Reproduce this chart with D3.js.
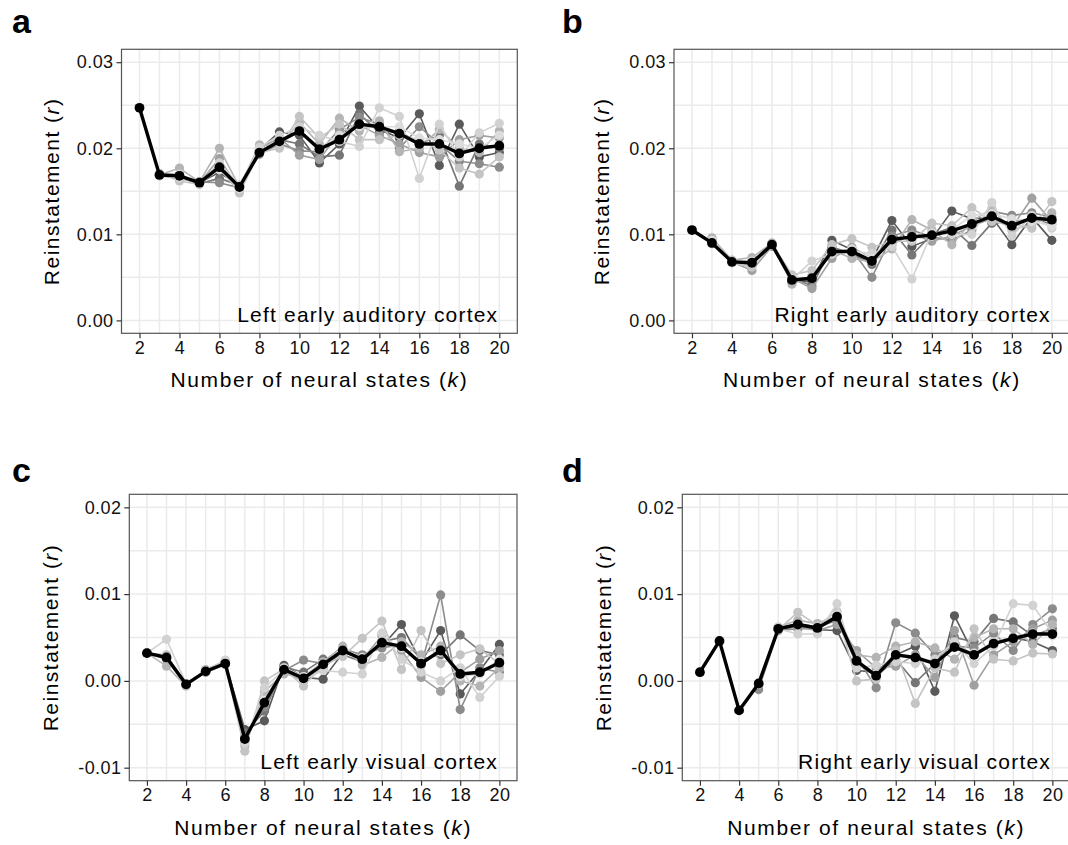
<!DOCTYPE html>
<html>
<head>
<meta charset="utf-8">
<script src="https://cdnjs.cloudflare.com/ajax/libs/d3/7.8.5/d3.min.js"></script>
<style>
body{margin:0;background:#fff;}
svg{display:block;font-family:"Liberation Sans",Arial,Helvetica,sans-serif;}
</style>
</head>
<body>
<div id="chart"></div>
<script>
// number of neural states on the x axis
var kValues = [2,3,4,5,6,7,8,9,10,11,12,13,14,15,16,17,18,19,20];
var xTicks = [2,4,6,8,10,12,14,16,18,20];
var yTicksAud = [0,0.01,0.02,0.03];
var yTicksVis = [-0.01,0,0.01,0.02];
var greyColors = ["#5a5a5a","#767676","#8c8c8c","#a0a0a0","#b4b4b4","#c4c4c4","#d2d2d2","#dcdcdc"];

// a - left early auditory cortex
var meanA = [0.0247,0.0169,0.0168,0.0160,0.0178,0.0155,0.0195,0.0208,0.0220,0.0199,0.0210,0.0228,0.0225,0.0217,0.0205,0.0205,0.0194,0.0200,0.0203];
var greyA = [
 [null,0.0170,0.0167,0.0160,0.0172,0.0156,0.0198,0.0219,0.0215,0.0183,0.0205,0.0249,0.0222,0.0212,0.0240,0.0180,0.0228,0.0190,0.0195],
 [null,0.0169,0.0166,0.0159,0.0165,0.0157,0.0196,0.0210,0.0205,0.0190,0.0192,0.0240,0.0218,0.0220,0.0205,0.0215,0.0156,0.0205,0.0200],
 [null,0.0170,0.0168,0.0161,0.0160,0.0154,0.0193,0.0205,0.0197,0.0196,0.0222,0.0236,0.0228,0.0200,0.0225,0.0205,0.0185,0.0182,0.0178],
 [null,0.0168,0.0165,0.0160,0.0188,0.0152,0.0200,0.0212,0.0192,0.0187,0.0218,0.0227,0.0215,0.0205,0.0195,0.0190,0.0210,0.0215,0.0212],
 [null,0.0169,0.0177,0.0161,0.0200,0.0155,0.0204,0.0203,0.0230,0.0205,0.0235,0.0220,0.0232,0.0196,0.0200,0.0222,0.0200,0.0195,0.0220],
 [null,0.0171,0.0162,0.0158,0.0178,0.0148,0.0195,0.0200,0.0237,0.0212,0.0228,0.0210,0.0210,0.0215,0.0210,0.0198,0.0177,0.0170,0.0190],
 [null,0.0169,0.0170,0.0159,0.0183,0.0157,0.0201,0.0215,0.0225,0.0215,0.0208,0.0202,0.0247,0.0237,0.0165,0.0228,0.0190,0.0218,0.0229],
 [null,0.0168,0.0166,0.0160,0.0175,0.0153,0.0197,0.0208,0.0220,0.0200,0.0215,0.0225,0.0225,0.0225,0.0212,0.0210,0.0205,0.0200,0.0215]
];

// b - right early auditory cortex
var meanB = [0.0105,0.0090,0.0068,0.0067,0.0088,0.0047,0.0049,0.0080,0.0080,0.0069,0.0094,0.0097,0.0099,0.0104,0.0112,0.0121,0.0110,0.0119,0.0117];
var greyB = [
 [null,0.0091,0.0068,0.0066,0.0089,0.0046,0.0045,0.0093,0.0082,0.0070,0.0116,0.0086,0.0095,0.0127,0.0118,0.0120,0.0088,0.0120,0.0093],
 [null,0.0090,0.0069,0.0068,0.0088,0.0050,0.0040,0.0085,0.0078,0.0065,0.0105,0.0076,0.0100,0.0108,0.0087,0.0113,0.0115,0.0118,0.0112],
 [null,0.0092,0.0067,0.0065,0.0087,0.0045,0.0048,0.0078,0.0082,0.0050,0.0098,0.0105,0.0097,0.0093,0.0105,0.0127,0.0122,0.0125,0.0120],
 [null,0.0094,0.0068,0.0058,0.0086,0.0049,0.0037,0.0072,0.0085,0.0072,0.0088,0.0100,0.0092,0.0098,0.0110,0.0118,0.0108,0.0142,0.0115],
 [null,0.0096,0.0070,0.0073,0.0090,0.0042,0.0052,0.0082,0.0072,0.0068,0.0083,0.0117,0.0105,0.0088,0.0115,0.0130,0.0105,0.0112,0.0125],
 [null,0.0089,0.0067,0.0062,0.0089,0.0053,0.0058,0.0088,0.0095,0.0085,0.0092,0.0092,0.0113,0.0110,0.0131,0.0115,0.0112,0.0107,0.0138],
 [null,0.0090,0.0068,0.0067,0.0088,0.0047,0.0069,0.0077,0.0080,0.0078,0.0086,0.0048,0.0102,0.0100,0.0100,0.0137,0.0098,0.0122,0.0107],
 [null,0.0093,0.0069,0.0069,0.0087,0.0048,0.0050,0.0080,0.0083,0.0072,0.0095,0.0095,0.0098,0.0105,0.0122,0.0124,0.0118,0.0115,0.0110]
];

// c - left early visual cortex
var meanC = [0.0032,0.0027,-0.0004,0.0011,0.0020,-0.0067,-0.0025,0.0013,0.0003,0.0019,0.0035,0.0025,0.0044,0.0040,0.0020,0.0035,0.0008,0.0010,0.0021];
var greyC = [
 [0.0032,0.0026,-0.0004,0.0011,0.0021,-0.0056,-0.0046,0.0018,0.0004,0.0002,0.0032,0.0028,0.0040,0.0065,0.0022,0.0058,-0.0015,0.0012,0.0042],
 [0.0032,0.0025,-0.0005,0.0012,0.0020,-0.0060,-0.0035,0.0016,0.0010,0.0025,0.0030,0.0022,0.0045,0.0050,0.0025,0.0030,0.0053,0.0035,0.0030],
 [0.0032,0.0028,-0.0003,0.0010,0.0019,-0.0065,-0.0030,0.0012,0.0024,0.0020,0.0037,0.0030,0.0038,0.0042,0.0018,0.0099,-0.0033,0.0015,0.0010],
 [0.0032,0.0029,-0.0004,0.0011,0.0022,-0.0070,-0.0020,0.0010,0.0000,0.0015,0.0033,0.0025,0.0052,0.0035,0.0004,-0.0012,0.0010,0.0025,0.0035],
 [0.0032,0.0017,-0.0006,0.0013,0.0023,-0.0075,-0.0012,0.0008,0.0005,0.0022,0.0040,0.0018,0.0027,0.0045,0.0030,0.0040,0.0000,-0.0006,0.0015],
 [0.0032,0.0030,-0.0005,0.0010,0.0020,-0.0081,0.0000,0.0014,-0.0006,0.0018,0.0028,0.0049,0.0069,0.0013,0.0058,0.0020,0.0030,0.0037,0.0020],
 [0.0032,0.0048,-0.0003,0.0012,0.0024,-0.0072,-0.0008,0.0013,0.0002,0.0012,0.0010,0.0008,0.0055,0.0025,0.0010,0.0000,0.0015,-0.0019,0.0005],
 [0.0032,0.0027,-0.0004,0.0011,0.0021,-0.0068,-0.0022,0.0015,0.0005,0.0020,0.0036,0.0027,0.0044,0.0038,0.0022,0.0033,0.0005,0.0008,0.0025]
];

// d - right early visual cortex
var meanD = [0.0010,0.0046,-0.0034,-0.0003,0.0060,0.0065,0.0061,0.0074,0.0023,0.0006,0.0030,0.0027,0.0020,0.0039,0.0030,0.0043,0.0049,0.0054,0.0054];
var greyD = [
 [null,null,null,-0.0005,0.0059,0.0063,0.0059,0.0058,0.0012,0.0010,0.0030,0.0040,-0.0012,0.0075,0.0030,0.0045,0.0050,0.0045,0.0035],
 [null,null,null,-0.0004,0.0061,0.0066,0.0062,0.0070,0.0020,0.0005,0.0025,-0.0002,0.0020,0.0050,0.0045,0.0072,0.0068,0.0052,0.0060],
 [null,null,null,-0.0010,0.0058,0.0060,0.0060,0.0072,0.0028,-0.0008,0.0067,0.0055,0.0030,0.0040,0.0038,0.0055,0.0035,0.0065,0.0083],
 [null,null,null,-0.0003,0.0060,0.0062,0.0058,0.0065,0.0035,0.0015,0.0017,0.0030,0.0004,0.0058,-0.0005,0.0030,0.0045,0.0060,0.0070],
 [null,null,null,-0.0003,0.0062,0.0070,0.0066,0.0075,0.0030,0.0027,0.0040,0.0045,0.0038,0.0025,0.0050,0.0060,0.0060,0.0042,0.0065],
 [null,null,null,-0.0004,0.0059,0.0079,0.0064,0.0080,0.0000,0.0002,0.0035,-0.0026,0.0015,0.0010,0.0060,0.0025,0.0023,0.0032,0.0031],
 [null,null,null,-0.0003,0.0060,0.0054,0.0054,0.0089,0.0015,0.0018,0.0022,0.0020,0.0025,0.0045,0.0020,0.0040,0.0089,0.0087,0.0055],
 [null,null,null,-0.0004,0.0061,0.0064,0.0061,0.0076,0.0022,0.0008,0.0031,0.0028,0.0020,0.0040,0.0032,0.0045,0.0050,0.0055,0.0052]
];

var panels = [
 {letter:"a", label:"Left early auditory cortex", mean:meanA, grey:greyA, yTicks:yTicksAud,
  left:121.5, right:517.3, top:49.3, bottom:333.3, lx:12, ly:33, titleX:52},
 {letter:"b", label:"Right early auditory cortex", mean:meanB, grey:greyB, yTicks:yTicksAud,
  left:674, right:1069.8, top:49.3, bottom:333.3, lx:562, ly:33, titleX:602},
 {letter:"c", label:"Left early visual cortex", mean:meanC, grey:greyC, yTicks:yTicksVis,
  left:129.3, right:517, top:494.3, bottom:780.7, lx:12, ly:482, titleX:51},
 {letter:"d", label:"Right early visual cortex", mean:meanD, grey:greyD, yTicks:yTicksVis,
  left:682.3, right:1070, top:494.3, bottom:780.7, lx:562, ly:482, titleX:604}
];

var svg = d3.select("#chart")
	.append("svg")
	.attr("width", 1068)
	.attr("height", 845);

panels.forEach(function(p){
	var yt = p.yTicks;
	var x = d3.scaleLinear().domain([1.1, 20.9]).range([p.left, p.right]);
	// ggplot style 5% expansion around the tick range
	var pad = (yt[yt.length-1] - yt[0]) * 0.05;
	var y = d3.scaleLinear().domain([yt[0]-pad, yt[yt.length-1]+pad]).range([p.bottom, p.top]);

	var g = svg.append("g");

	// grid
	var yMinor = yt.slice(0, -1).map(function(v){ return v + 0.005; });
	var xMinor = kValues.filter(function(k){ return k % 2 == 1; });
	g.selectAll(".gx")
		.data(xTicks.concat(xMinor))
		.enter().append("line")
		.attr("x1", function(d){ return x(d); })
		.attr("x2", function(d){ return x(d); })
		.attr("y1", p.top).attr("y2", p.bottom)
		.attr("stroke", "#ebebeb")
		.attr("stroke-width", 1.5);
	g.selectAll(".gy")
		.data(yt.concat(yMinor))
		.enter().append("line")
		.attr("y1", function(d){ return y(d); })
		.attr("y2", function(d){ return y(d); })
		.attr("x1", p.left).attr("x2", p.right)
		.attr("stroke", "#ebebeb")
		.attr("stroke-width", 1.5);

	var line = d3.line()
		.defined(function(d){ return d.v != null; })
		.x(function(d){ return x(d.k); })
		.y(function(d){ return y(d.v); });

	// grey series
	p.grey.forEach(function(s, i){
		var pts = kValues.map(function(k, j){ return {k:k, v:s[j]}; });
		g.append("path")
			.datum(pts)
			.attr("d", line)
			.attr("fill", "none")
			.attr("stroke", greyColors[i])
			.attr("stroke-width", 1.6);
		g.selectAll(null)
			.data(pts.filter(function(d){ return d.v != null; }))
			.enter().append("circle")
			.attr("cx", function(d){ return x(d.k); })
			.attr("cy", function(d){ return y(d.v); })
			.attr("r", 4.6)
			.attr("fill", greyColors[i]);
	});

	// mean in black
	var mpts = kValues.map(function(k, j){ return {k:k, v:p.mean[j]}; });
	g.append("path")
		.datum(mpts)
		.attr("d", line)
		.attr("fill", "none")
		.attr("stroke", "#000")
		.attr("stroke-width", 3.4)
		.attr("stroke-linejoin", "round");
	g.selectAll(null)
		.data(mpts)
		.enter().append("circle")
		.attr("cx", function(d){ return x(d.k); })
		.attr("cy", function(d){ return y(d.v); })
		.attr("r", 4.9)
		.attr("fill", "#000");

	// border
	g.append("rect")
		.attr("x", p.left).attr("y", p.top)
		.attr("width", p.right - p.left)
		.attr("height", p.bottom - p.top)
		.attr("fill", "none")
		.attr("stroke", "#555")
		.attr("stroke-width", 1.2);

	// axes
	var xa = g.append("g")
		.attr("transform", "translate(0," + p.bottom + ")")
		.call(d3.axisBottom(x).tickValues(xTicks).tickSize(5).tickPadding(3));
	var ya = g.append("g")
		.attr("transform", "translate(" + p.left + ",0)")
		.call(d3.axisLeft(y).tickValues(yt).tickSize(5).tickPadding(3)
			.tickFormat(function(d){ return d.toFixed(2); }));
	[xa, ya].forEach(function(a){
		a.select(".domain").remove();
		a.selectAll(".tick line").attr("stroke", "#333").attr("stroke-width", 1.2);
		a.selectAll("text")
			.style("font-size", "18px")
			.style("letter-spacing", "0.4px")
			.style("font-family", "'Liberation Sans', Arial, sans-serif")
			.attr("fill", "#111");
	});

	// annotation inside panel
	g.append("text")
		.attr("x", p.right - 19)
		.attr("y", p.bottom - 11.5)
		.style("text-anchor", "end")
		.style("font-size", "21px")
		.style("letter-spacing", "1.2px")
		.attr("fill", "#000")
		.text(p.label);

	// x axis title
	var xt = g.append("text")
		.attr("x", (p.left + p.right) / 2)
		.attr("y", p.bottom + 54)
		.style("text-anchor", "middle")
		.style("font-size", "21px")
		.style("letter-spacing", "1.6px")
		.attr("fill", "#000");
	xt.append("tspan").text("Number of neural states (");
	xt.append("tspan").style("font-style", "italic").text("k");
	xt.append("tspan").text(")");

	// y axis title
	var ytl = g.append("text")
		.attr("transform", "translate(" + p.titleX + "," + (p.top + p.bottom) / 2 + "), rotate(-90)")
		.attr("dy", "0.35em")
		.style("text-anchor", "middle")
		.style("font-size", "21px")
		.style("letter-spacing", "1.5px")
		.attr("fill", "#000");
	ytl.append("tspan").text("Reinstatement (");
	ytl.append("tspan").style("font-style", "italic").text("r");
	ytl.append("tspan").text(")");

	// panel letter
	g.append("text")
		.attr("x", p.lx)
		.attr("y", p.ly)
		.style("font-size", "34px")
		.style("font-weight", "bold")
		.attr("fill", "#000")
		.text(p.letter);
});
</script>
</body>
</html>
